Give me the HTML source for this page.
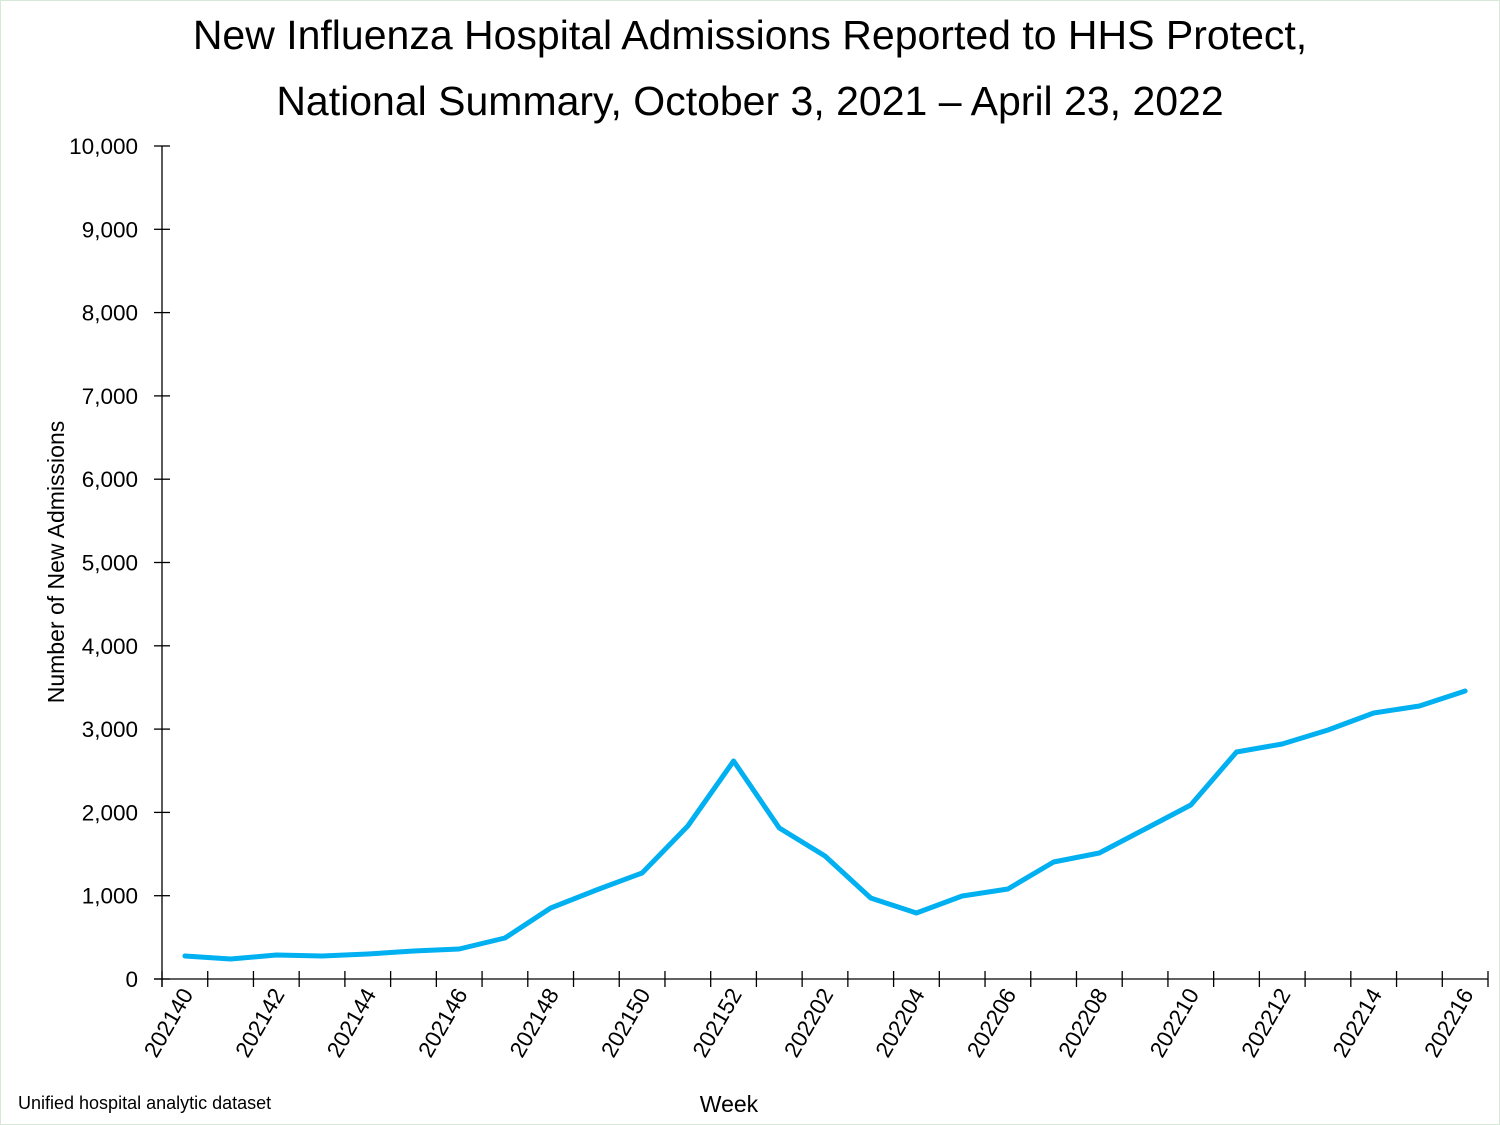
<!DOCTYPE html>
<html><head><style>body{margin:0;background:#fff}svg{display:block}text{font-family:"Liberation Sans",sans-serif;fill:#000}</style></head><body>
<svg width="1500" height="1125" xmlns="http://www.w3.org/2000/svg">
<rect x="0.5" y="0.5" width="1499" height="1124" fill="#fff" stroke="#d8e8d8"/>
<text x="750" y="49" font-size="41" text-anchor="middle">New Influenza Hospital Admissions Reported to HHS Protect,</text>
<text x="750" y="115" font-size="41" text-anchor="middle">National Summary, October 3, 2021 – April 23, 2022</text>
<g stroke="#000" stroke-width="1.3">
<line x1="162" y1="146" x2="162" y2="987"/>
<line x1="154" y1="979" x2="1488" y2="979"/>
</g>
<g id="yt" stroke="#000" stroke-width="1.3"></g>
<g id="yl" font-size="22.5" text-anchor="end"></g>
<g id="xt" stroke="#000" stroke-width="1.3"></g>
<g id="xl" font-size="22.5" text-anchor="end"></g>
<text transform="translate(64,562) rotate(-90)" font-size="23" text-anchor="middle">Number of New Admissions</text>
<text x="729" y="1112" font-size="23" text-anchor="middle">Week</text>
<text x="18" y="1109" font-size="18">Unified hospital analytic dataset</text>
<polyline id="ln" fill="none" stroke="#00b0f0" stroke-width="5" stroke-linejoin="round" stroke-linecap="round"/>
</svg>
<script>
var ns="http://www.w3.org/2000/svg";
function el(p,t,a,txt){var e=document.createElementNS(ns,t);for(var k in a)e.setAttribute(k,a[k]);if(txt)e.textContent=txt;document.getElementById(p).appendChild(e);}
for(var i=0;i<=10;i++){var y=979-i*83.3;el("yt","line",{x1:154,x2:170,y1:y,y2:y});el("yl","text",{x:138,y:y+8},i==0?"0":(i*1000).toLocaleString("en-US"));}
var sp=(1488-162)/29;
for(var i=0;i<=29;i++){var x=162+i*sp;el("xt","line",{x1:x,x2:x,y1:971,y2:987});}
var labs=["202140","202142","202144","202146","202148","202150","202152","202202","202204","202206","202208","202210","202212","202214","202216"];
for(var j=0;j<labs.length;j++){var x=162+sp/2+2*j*sp;el("xl","text",{transform:"translate("+(x+9)+",994) rotate(-60)"},labs[j]);}
var ys=[956,959,955,956,954,951,949,938,908,890,873,826,761,828,856,898,913,896,889,862,853,829,805,752,744,730,713,706,691];
var pts=ys.map(function(y,i){return (162+sp/2+i*sp).toFixed(1)+","+y}).join(" ");
document.getElementById("ln").setAttribute("points",pts);
</script>
</body></html>
